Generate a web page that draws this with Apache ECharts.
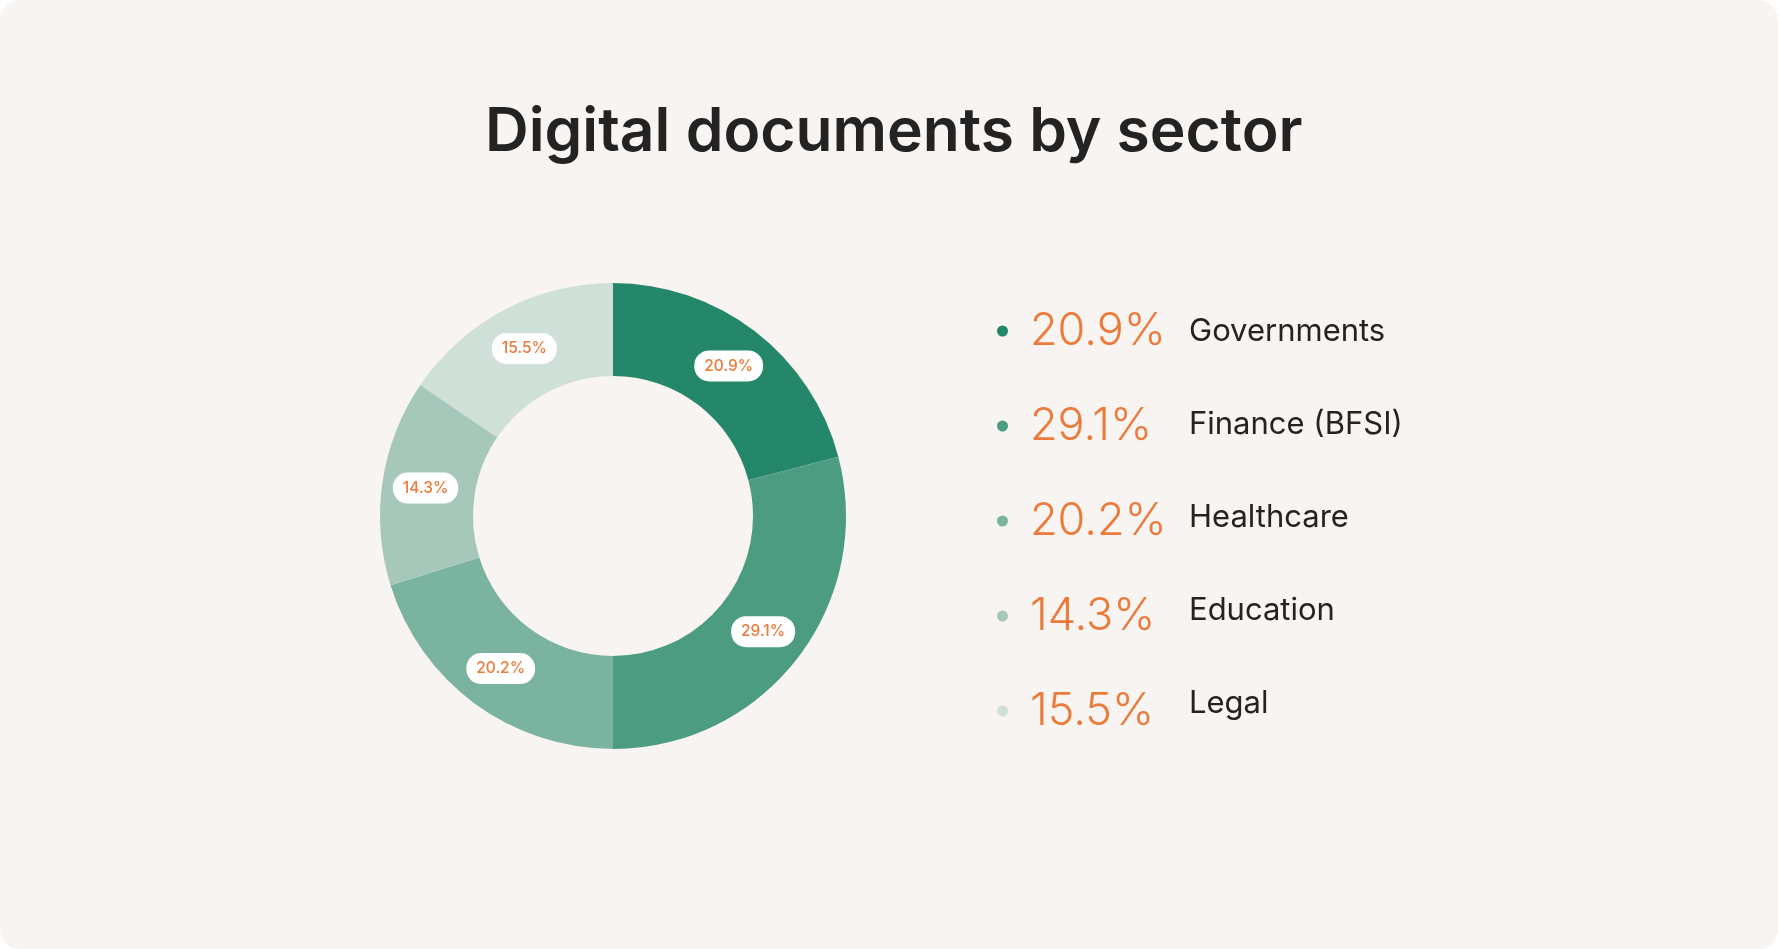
<!DOCTYPE html>
<html>
<head>
<meta charset="utf-8">
<script src="https://cdn.jsdelivr.net/npm/echarts@6/dist/echarts.min.js"></script>
<style>
  html, body { margin: 0; padding: 0; background: #ffffff; width: 1778px; height: 949px; overflow: hidden; }
  #card { position: absolute; left: 0; top: 0; width: 1778px; height: 949px; background: #F8F4F1; border-radius: 20px; }
  #chart { width: 1778px; height: 949px; }
</style>
</head>
<body>
<div id="card"><div id="chart"></div></div>
<script>
const titleText = 'Digital documents by sector';
const categories = ['Governments', 'Finance (BFSI)', 'Healthcare', 'Education', 'Legal'];
const shares = [20.9, 29.1, 20.2, 14.3, 15.5];
const colors = ['#258769', '#4C9C82', '#7AB3A0', '#A5C8BB', '#CFE0D8'];

const FONT = 'Inter, "Noto Sans", sans-serif';
const ORANGE = '#EC7A3A';

const chart = echarts.init(document.getElementById('chart'), null, { renderer: 'canvas' });

const data = categories.map((c, i) => ({ name: c, value: shares[i], itemStyle: { color: colors[i] } }));

chart.setOption({
  backgroundColor: 'transparent',
  title: {
    text: titleText,
    left: 480,
    top: 93,
    textStyle: { fontFamily: FONT, fontSize: 60.5, fontWeight: 600, color: '#232323', lineHeight: 70 }
  },
  legend: [{
    orient: 'vertical',
    left: 992,
    top: 303.5,
    icon: 'circle',
    itemWidth: 11,
    itemHeight: 11,
    itemGap: 50,
    selectedMode: false,
    data: categories,
    formatter: function (name) {
      const i = categories.indexOf(name);
      return '{p|' + shares[i].toFixed(1) + '%}';
    },
    textStyle: {
      fontFamily: FONT,
      rich: {
        p: { fontFamily: FONT, fontSize: 45, fontWeight: 350, color: ORANGE, padding: [0, 0, 0, 17] }
      }
    }
  }, {
    orient: 'vertical',
    left: 1168,
    top: 311.5,
    icon: 'circle',
    itemWidth: 11,
    itemHeight: 11,
    itemGap: 62,
    selectedMode: false,
    itemStyle: { opacity: 0 },
    data: categories,
    textStyle: { fontFamily: FONT, fontSize: 31, fontWeight: 400, color: '#232323' }
  }],
  series: [{
    type: 'pie',
    center: [613, 516],
    radius: [140, 233],
    startAngle: 90,
    clockwise: true,
    avoidLabelOverlap: false,
    silent: true,
    label: {
      show: true,
      position: 'inside',
      formatter: function (p) { return p.value.toFixed(1) + '%'; },
      fontFamily: FONT,
      fontSize: 15.5,
      lineHeight: 16,
      fontWeight: 500,
      color: ORANGE,
      backgroundColor: '#ffffff',
      borderRadius: 15,
      padding: [8, 10, 7, 10]
    },
    labelLine: { show: false },
    itemStyle: { borderWidth: 0 },
    data: data
  }]
});
</script>
</body>
</html>
